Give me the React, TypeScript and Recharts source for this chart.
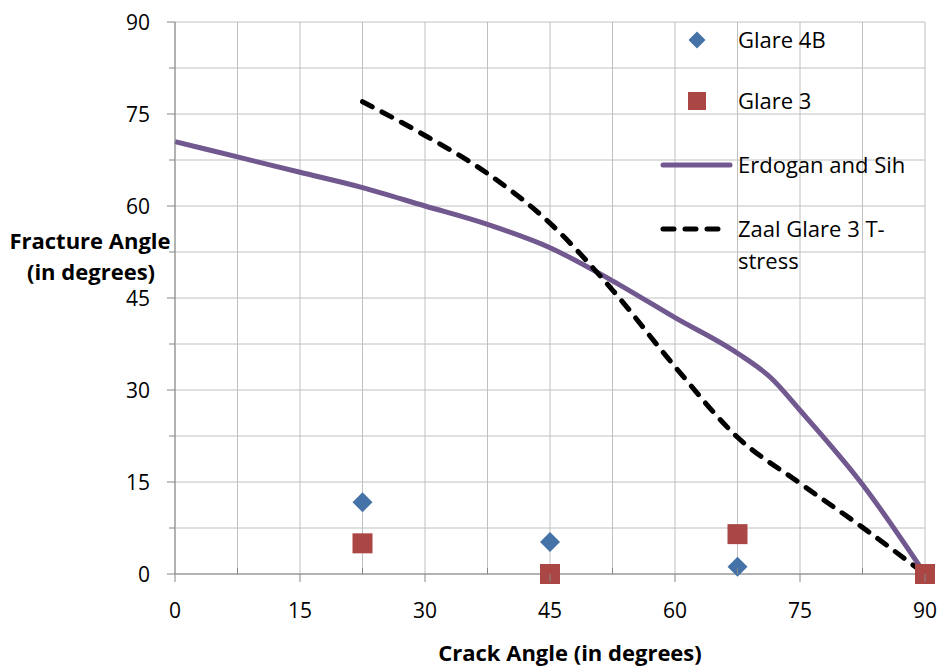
import { ComposedChart, Line, Scatter, XAxis, YAxis, CartesianGrid, Legend } from "recharts";

const gridTicks = [0, 7.5, 15, 22.5, 30, 37.5, 45, 52.5, 60, 67.5, 75, 82.5, 90];

const glare4bAngles = [22.5, 45, 67.5];
const glare4bFracture = [11.7, 5.2, 1.2];

const glare3Angles = [22.5, 45, 67.5, 90];
const glare3Fracture = [5.0, 0, 6.5, 0];

const erdoganAngles = [0, 7.5, 15, 22.5, 30, 37.5, 45, 52.5, 60, 67.5, 71.5, 75, 82.5, 90];
const erdoganFracture = [70.5, 68.0, 65.5, 63.0, 60.0, 57.0, 53.2, 47.8, 41.8, 36.0, 32.0, 26.7, 14.6, 0];

const zaalAngles = [22.5, 30, 37.5, 45, 52.5, 60, 67.5, 75, 82.5, 90];
const zaalFracture = [77.0, 71.5, 65.3, 57.2, 46.3, 33.8, 22.3, 14.8, 7.6, 0];

const zip = (xs: number[], ys: number[]) => xs.map((x, i) => ({ x, y: ys[i] }));

const glare4b = zip(glare4bAngles, glare4bFracture);
const glare3 = zip(glare3Angles, glare3Fracture);
const erdogan = zip(erdoganAngles, erdoganFracture);
const zaal = zip(zaalAngles, zaalFracture);

const FONT = "'Open Sans', sans-serif";
const AXIS = "#868686";
const GRID = "#C0C0C0";
const BLUE = "#4572A7";
const RED = "#AA4643";
const PURPLE = "#71588F";
const TICK_SIZE = 8;
const TICK_MARGIN = 4;

function XTick(props: any) {
  const { x, y, payload } = props;
  const axisY = y - TICK_SIZE - TICK_MARGIN;
  const major = payload.value % 15 === 0;
  return (
    <g>
      <line x1={x} x2={x} y1={major ? axisY : axisY - 6} y2={major ? axisY + 8 : axisY} stroke={AXIS} />
      {major && (
        <text x={x} y={axisY + 44} textAnchor="middle" fontFamily={FONT} fontSize={21} fill="#000">
          {payload.value}
        </text>
      )}
    </g>
  );
}

function YTick(props: any) {
  const { x, y, payload } = props;
  const axisX = x + TICK_SIZE + TICK_MARGIN;
  const major = payload.value % 15 === 0;
  return (
    <g>
      <line x1={axisX - (major ? 8 : 6)} x2={axisX} y1={y} y2={y} stroke={AXIS} />
      {major && (
        <text x={axisX - 25} y={y + 8} textAnchor="end" fontFamily={FONT} fontSize={21} fill="#000">
          {payload.value}
        </text>
      )}
    </g>
  );
}

function XTitle({ viewBox }: any) {
  return (
    <text x={viewBox.x + viewBox.width / 2 + 20} y={viewBox.y + 87} textAnchor="middle"
      fontFamily={FONT} fontSize={22} fontWeight="bold" fill="#000">
      Crack Angle (in degrees)
    </text>
  );
}

function YTitle({ viewBox }: any) {
  const cy = viewBox.y + viewBox.height / 2;
  return (
    <text textAnchor="middle" fontFamily={FONT} fontSize={22} fontWeight="bold" fill="#000">
      <tspan x={90} y={cy - 49}>Fracture Angle</tspan>
      <tspan x={91} y={cy - 18}>(in degrees)</tspan>
    </text>
  );
}

function Diamond({ cx, cy }: any) {
  const r = 10;
  return <path d={`M${cx},${cy - r}L${cx + r},${cy}L${cx},${cy + r}L${cx - r},${cy}Z`} fill={BLUE} />;
}

function Square({ cx, cy }: any) {
  const h = 10;
  return <rect x={cx - h} y={cy - h} width={h * 2} height={h * 2} fill={RED} />;
}

const legendText = { position: "absolute" as const, left: 738, fontFamily: FONT, fontSize: 22, color: "#000", lineHeight: "32px" };

function LegendBox() {
  return (
    <div style={{ position: "relative", width: 939, height: 300 }}>
      <svg width={939} height={300} style={{ position: "absolute", left: 0, top: 0 }}>
        <path d="M697,31.5L705.5,40L697,48.5L688.5,40Z" fill={BLUE} />
        <rect x={688} y={92} width={18} height={18} fill={RED} />
        <line x1={663} x2={730} y1={165} y2={165} stroke={PURPLE} strokeWidth={5} strokeLinecap="round" />
        <line x1={663} x2={722} y1={229} y2={229} stroke="#000" strokeWidth={5} strokeLinecap="round" strokeDasharray="11 11" />
      </svg>
      <div style={{ ...legendText, top: 23 }}>Glare 4B</div>
      <div style={{ ...legendText, top: 84 }}>Glare 3</div>
      <div style={{ ...legendText, top: 148 }}>Erdogan and Sih</div>
      <div style={{ ...legendText, top: 212 }}>Zaal Glare 3 T-<br />stress</div>
    </div>
  );
}

export default function App() {
  return (
    <div style={{ position: "absolute", left: 0, top: 0, width: 939, height: 668, background: "#fff" }}>
      <ComposedChart width={939} height={668} margin={{ top: 22, right: 14, bottom: 0, left: 0 }}>
        <CartesianGrid stroke={GRID} strokeWidth={1} />
        <XAxis
          type="number"
          dataKey="x"
          domain={[0, 90]}
          ticks={gridTicks}
          interval={0}
          height={94}
          axisLine={{ stroke: AXIS }}
          tickLine={false}
          tickSize={TICK_SIZE}
          tickMargin={TICK_MARGIN}
          tick={<XTick />}
          label={{ content: <XTitle /> }}
        />
        <YAxis
          type="number"
          domain={[0, 90]}
          ticks={gridTicks}
          interval={0}
          width={175}
          axisLine={{ stroke: AXIS }}
          tickLine={false}
          tickSize={TICK_SIZE}
          tickMargin={TICK_MARGIN}
          tick={<YTick />}
          label={{ content: <YTitle /> }}
        />
        <Legend
          layout="vertical"
          align="center"
          verticalAlign="middle"
          wrapperStyle={{ left: 0, top: 0, width: 939, height: 300 }}
          content={() => <LegendBox />}
        />
        <Line data={erdogan} dataKey="y" name="Erdogan and Sih" type="monotone" stroke={PURPLE}
          strokeWidth={5} dot={false} isAnimationActive={false} />
        <Line data={zaal} dataKey="y" name="Zaal Glare 3 T-stress" type="monotone" stroke="#000"
          strokeWidth={5} strokeDasharray="11 11" strokeLinecap="round" dot={false} isAnimationActive={false} />
        <Scatter data={glare4b} dataKey="y" name="Glare 4B" shape={<Diamond />} isAnimationActive={false} />
        <Scatter data={glare3} dataKey="y" name="Glare 3" shape={<Square />} isAnimationActive={false} />
      </ComposedChart>
    </div>
  );
}
